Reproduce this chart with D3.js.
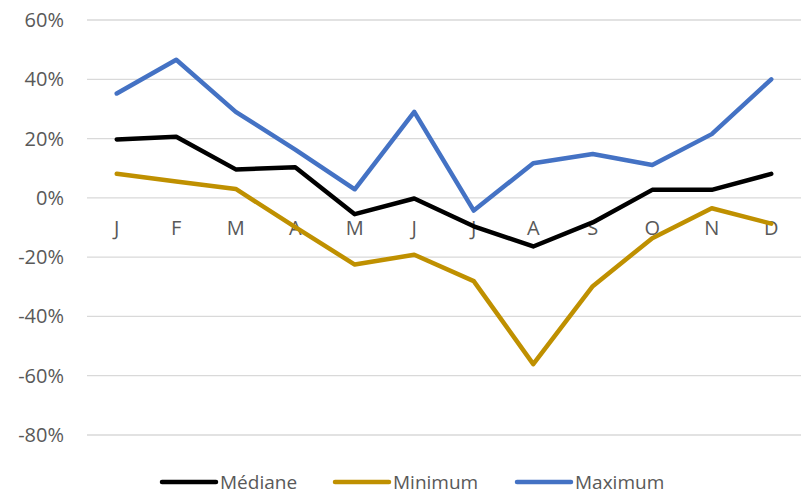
<!DOCTYPE html>
<html>
<head>
<meta charset="utf-8">
<script src="https://cdn.jsdelivr.net/npm/d3@7"></script>
<style>
  body { margin: 0; background: #fff; }
  text { font-family: "Open Sans", Lato, sans-serif; fill: #595959; }
</style>
</head>
<body>
<svg id="chart" width="801" height="496"></svg>
<script>
// months and series (percent)
var months = ["J", "F", "M", "A", "M", "J", "J", "A", "S", "O", "N", "D"];
var mediane = [19.7, 20.6, 9.6, 10.3, -5.5, -0.2, -9.6, -16.4, -8.3, 2.7, 2.7, 8.1];
var minimum = [8.1, 5.5, 3.0, -9.9, -22.5, -19.2, -28.1, -56.1, -29.8, -13.6, -3.5, -8.7];
var maximum = [35.2, 46.6, 29.0, 16.3, 2.9, 29.0, -4.3, 11.7, 14.8, 11.1, 21.5, 40.0];
var yTicks = [60, 40, 20, 0, -20, -40, -60, -80];

var series = [
	{ name: "Médiane", values: mediane, color: "#000000" },
	{ name: "Minimum", values: minimum, color: "#BF9000" },
	{ name: "Maximum", values: maximum, color: "#4472C4" }
];

var svg = d3.select("#chart");

var x = d3.scaleBand()
	.domain(d3.range(months.length))
	.range([87, 801]);

var y = d3.scaleLinear()
	.domain([-80, 60])
	.range([435, 20]);

// gridlines
svg.append("g")
	.selectAll("line")
	.data(yTicks)
	.enter()
	.append("line")
	.attr("x1", 87)
	.attr("x2", 801)
	.attr("y1", function (d) { return y(d); })
	.attr("y2", function (d) { return y(d); })
	.attr("stroke", "#d9d9d9")
	.attr("stroke-width", 1.3);

// y labels
svg.append("g")
	.selectAll("text")
	.data(yTicks)
	.enter()
	.append("text")
	.attr("x", 64)
	.attr("y", function (d) { return y(d); })
	.attr("dy", "0.35em")
	.attr("text-anchor", "end")
	.style("font-size", "20px")
	.text(function (d) { return d + "%"; });

// x labels, sitting just under the 0% line
svg.append("g")
	.selectAll("text")
	.data(months)
	.enter()
	.append("text")
	.attr("x", function (d, i) { return x(i) + x.bandwidth() / 2; })
	.attr("y", y(0) + 30)
	.attr("dy", "0.35em")
	.attr("text-anchor", "middle")
	.style("font-size", "20px")
	.text(function (d) { return d; });

var line = d3.line()
	.x(function (d, i) { return x(i) + x.bandwidth() / 2; })
	.y(function (d) { return y(d); });

svg.append("g")
	.selectAll("path")
	.data(series)
	.enter()
	.append("path")
	.attr("d", function (s) { return line(s.values); })
	.attr("fill", "none")
	.attr("stroke", function (s) { return s.color; })
	.attr("stroke-width", 4.5)
	.attr("stroke-linejoin", "round")
	.attr("stroke-linecap", "round");

// legend
var legendX = [162, 335, 517];
var legend = svg.append("g")
	.selectAll("g")
	.data(series)
	.enter()
	.append("g")
	.attr("transform", function (d, i) { return "translate(" + legendX[i] + ",482)"; });

legend.append("line")
	.attr("x1", 0)
	.attr("x2", 54)
	.attr("stroke", function (d) { return d.color; })
	.attr("stroke-width", 4.5)
	.attr("stroke-linecap", "round");

legend.append("text")
	.attr("x", 58)
	.attr("dy", "0.35em")
	.style("font-size", "19px")
	.text(function (d) { return d.name; });
</script>
</body>
</html>
